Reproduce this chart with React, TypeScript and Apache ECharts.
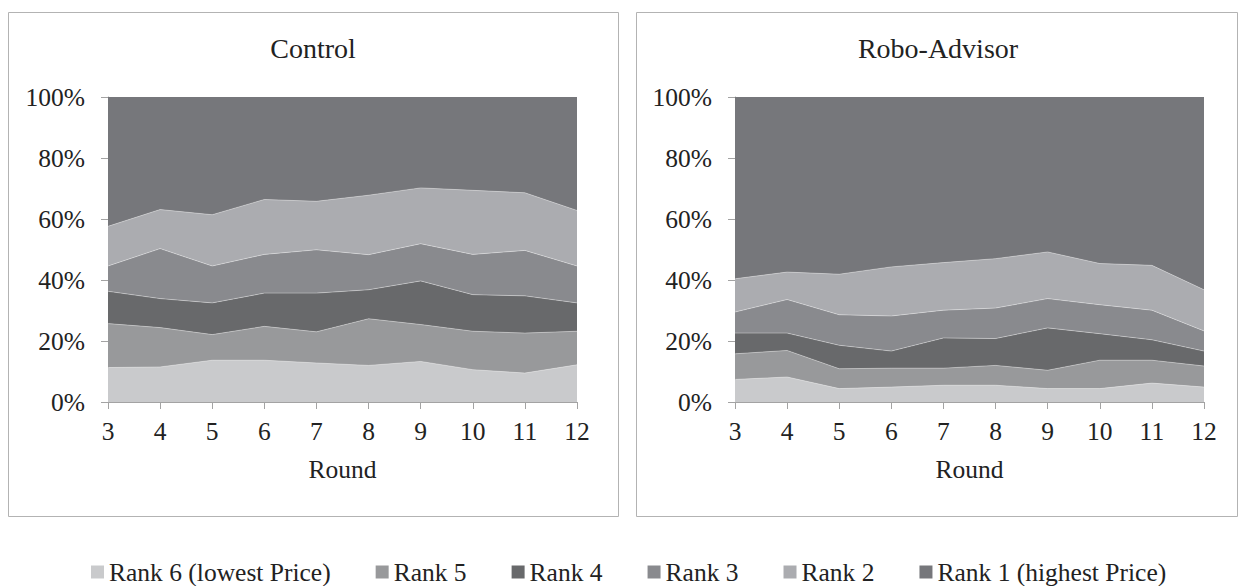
import React, { useEffect, useRef } from "react";
import * as echarts from "echarts";

const rounds = ["3", "4", "5", "6", "7", "8", "9", "10", "11", "12"];
const seriesNames = ["Rank 6 (lowest Price)", "Rank 5", "Rank 4", "Rank 3", "Rank 2", "Rank 1 (highest Price)"];
const colors = ["#c9cacc", "#98999b", "#68696b", "#898a8e", "#abacb0", "#76777b"];

// Control shares (%) per rank
const controlRank6 = [11.3, 11.5, 13.7, 13.7, 12.8, 12.0, 13.3, 10.6, 9.5, 12.2];
const controlRank5 = [14.4, 12.9, 8.4, 11.1, 10.2, 15.3, 12.1, 12.6, 13.1, 11.0];
const controlRank4 = [10.6, 9.5, 10.4, 10.9, 12.7, 9.5, 14.3, 12.0, 12.2, 9.3];
const controlRank3 = [8.3, 16.4, 12.1, 12.7, 14.2, 11.5, 12.2, 13.2, 14.9, 12.1];
const controlRank2 = [13.0, 12.8, 16.8, 18.0, 15.9, 19.5, 18.3, 21.0, 18.9, 18.2];
const controlRank1 = [42.4, 36.9, 38.6, 33.6, 34.2, 32.2, 29.8, 30.6, 31.4, 37.2];

// Robo-Advisor shares (%) per rank
const roboRank6 = [7.4, 8.2, 4.4, 4.9, 5.5, 5.5, 4.4, 4.4, 6.2, 4.9];
const roboRank5 = [8.4, 8.7, 6.5, 6.2, 5.6, 6.5, 6.0, 9.3, 7.5, 6.9];
const roboRank4 = [6.8, 5.7, 7.7, 5.6, 9.9, 8.8, 13.9, 8.7, 6.7, 4.9];
const roboRank3 = [6.9, 11.0, 10.0, 11.5, 9.1, 10.0, 9.6, 9.5, 9.7, 6.6];
const roboRank2 = [10.9, 9.0, 13.3, 16.1, 15.6, 16.2, 15.3, 13.5, 14.7, 13.5];
const roboRank1 = [59.6, 57.4, 58.1, 55.7, 54.3, 53.0, 50.8, 54.6, 55.2, 63.2];

const yTicks = [0, 20, 40, 60, 80, 100];

const controlData = [controlRank6, controlRank5, controlRank4, controlRank3, controlRank2, controlRank1];
const roboData = [roboRank6, roboRank5, roboRank4, roboRank3, roboRank2, roboRank1];

const FONT = "'Liberation Serif', 'Times New Roman', serif";
const TXT = "#222222";
const AXIS = "#a3a3a3";
const FS = 25.5;

export default function App() {
  const ref = useRef<HTMLDivElement>(null);
  useEffect(() => {
    if (!ref.current) return;
    const chart = echarts.init(ref.current, undefined, { renderer: "svg" });

    const xAxisBase = (gridIndex: number) => ({
      type: "category",
      gridIndex,
      data: rounds,
      boundaryGap: false,
      axisLine: { show: true, lineStyle: { color: AXIS, width: 1 } },
      axisTick: { show: true, length: 7, alignWithLabel: true, lineStyle: { color: AXIS } },
      axisLabel: { color: TXT, fontSize: FS, fontFamily: FONT, margin: 16 },
      name: "Round",
      nameLocation: "middle",
      nameGap: 54,
      nameTextStyle: { color: TXT, fontSize: FS, fontFamily: FONT },
      splitLine: { show: false },
    });
    const yAxisBase = (gridIndex: number) => ({
      type: "value",
      gridIndex,
      min: yTicks[0],
      max: yTicks[yTicks.length - 1],
      interval: 20,
      axisLine: { show: true, lineStyle: { color: AXIS, width: 1 } },
      axisTick: { show: true, length: 7, lineStyle: { color: AXIS } },
      axisLabel: { color: TXT, fontSize: FS, fontFamily: FONT, margin: 23, formatter: "{value}%" },
      splitLine: { show: false },
    });

    const mkSeries = (data: number[][], idx: number, stack: string) =>
      data.map((vals, i) => ({
        name: seriesNames[i],
        type: "line",
        xAxisIndex: idx,
        yAxisIndex: idx,
        stack,
        data: vals,
        showSymbol: false,
        symbol: "none",
        color: colors[i],
        lineStyle: {
          width: i === data.length - 1 ? 0 : 0.8,
          color: "rgba(255,255,255,0.45)",
        },
        areaStyle: { color: colors[i], opacity: 1 },
        emphasis: { disabled: true },
      }));

    chart.setOption({
      animation: false,
      backgroundColor: "#ffffff",
      grid: [
        { left: 108, top: 97, width: 469, height: 305 },
        { left: 735, top: 97, width: 469, height: 305 },
      ],
      xAxis: [xAxisBase(0), xAxisBase(1)],
      yAxis: [yAxisBase(0), yAxisBase(1)],
      legend: {
        data: seriesNames,
        left: 86,
        top: 554,
        icon: "rect",
        itemWidth: 13,
        itemHeight: 13,
        itemGap: 45,
        textStyle: { color: TXT, fontSize: FS, fontFamily: FONT },
        selectedMode: false,
      },
      graphic: [
        { type: "rect", shape: { x: 8.5, y: 12.5, width: 610, height: 504 }, style: { fill: "none", stroke: "#b3b3b3", lineWidth: 1 }, z: -1 },
        { type: "rect", shape: { x: 636.5, y: 12.5, width: 601, height: 504 }, style: { fill: "none", stroke: "#b3b3b3", lineWidth: 1 }, z: -1 },
        { type: "text", x: 313, y: 48, style: { text: "Control", fill: TXT, font: `28px ${FONT}`, textAlign: "center", textVerticalAlign: "middle" } },
        { type: "text", x: 938, y: 48, style: { text: "Robo-Advisor", fill: TXT, font: `28px ${FONT}`, textAlign: "center", textVerticalAlign: "middle" } },
      ],
      series: [...mkSeries(controlData, 0, "control"), ...mkSeries(roboData, 1, "robo")],
    });

    return () => chart.dispose();
  }, []);

  return (
    <div
      ref={ref}
      style={{ position: "absolute", left: 0, top: 0, width: 1242, height: 586 }}
    />
  );
}
